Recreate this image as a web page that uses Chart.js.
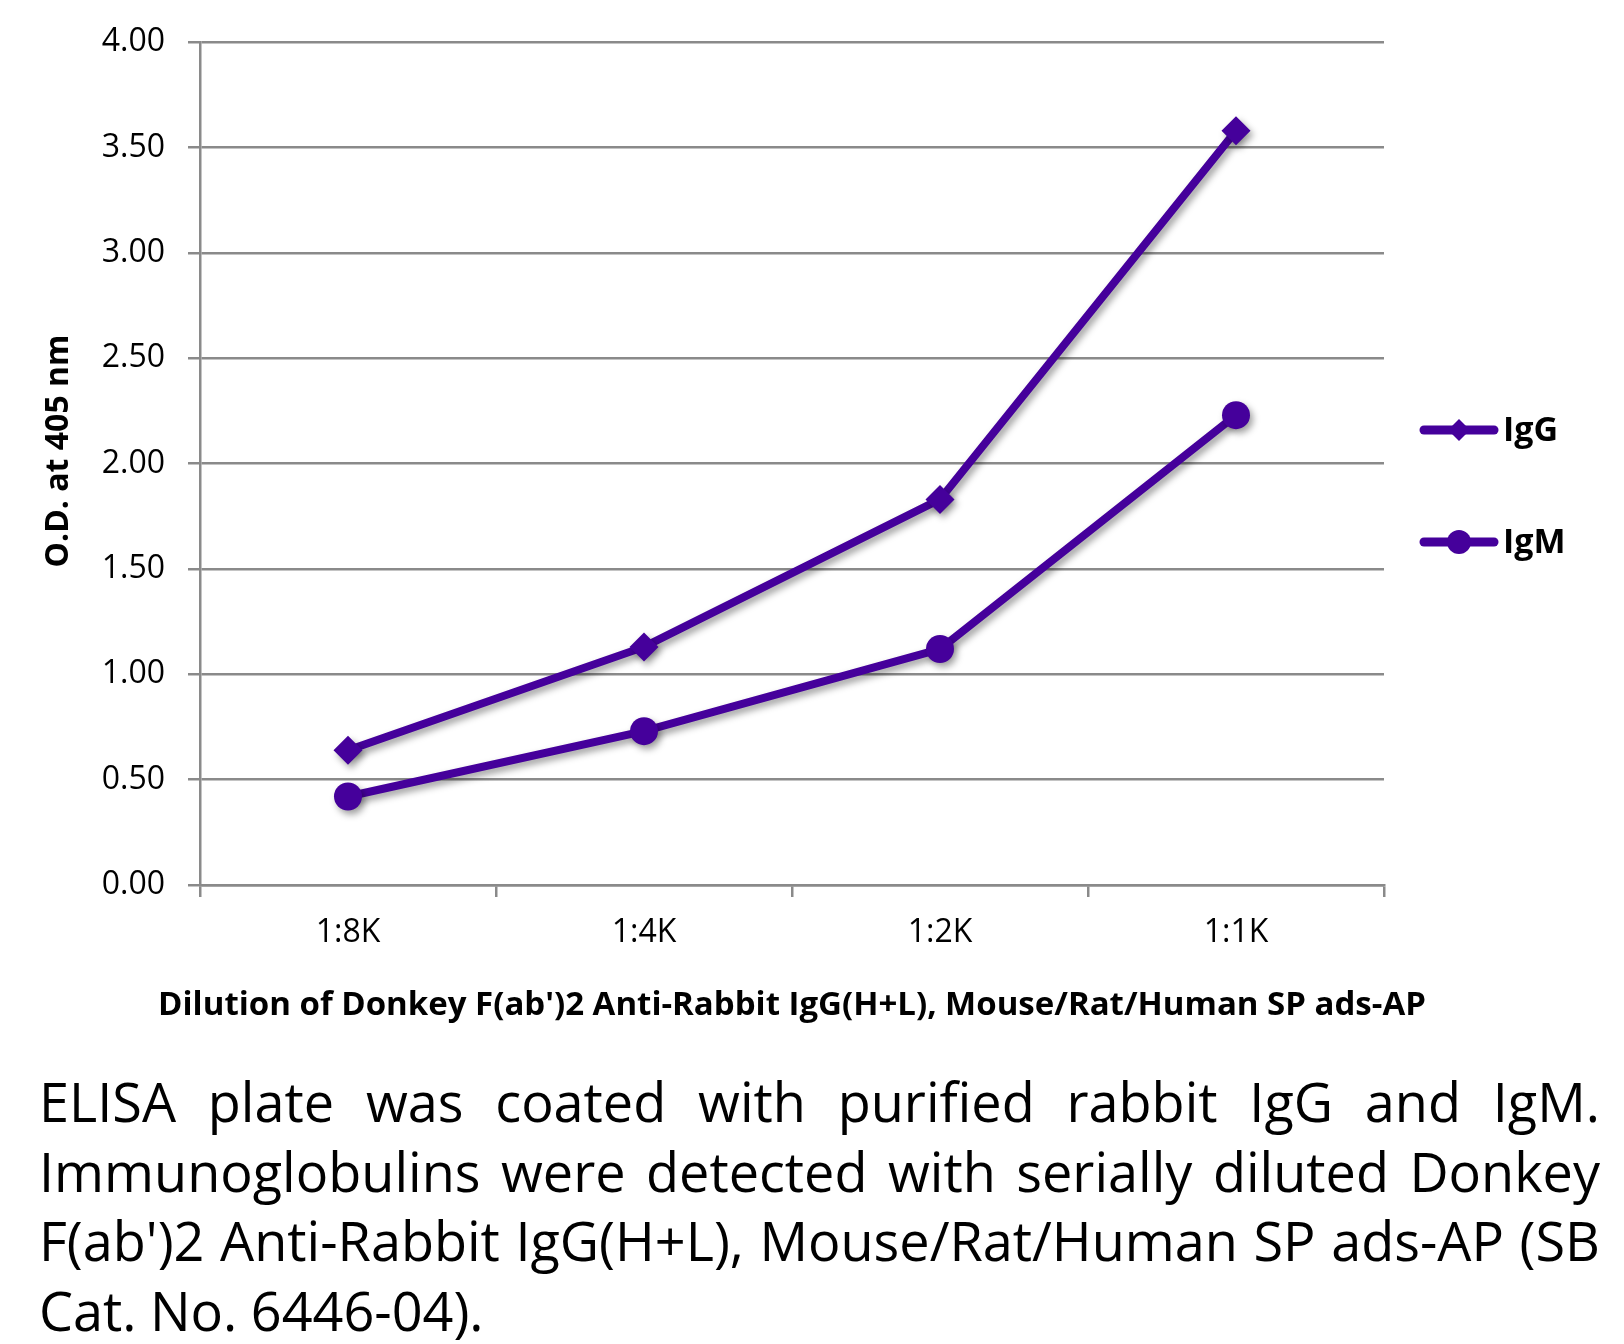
<!DOCTYPE html>
<html>
<head>
<meta charset="utf-8">
<script src="https://cdn.jsdelivr.net/npm/chart.js@4.4.1/dist/chart.umd.min.js"></script>
<style>
  html, body { margin: 0; padding: 0; background: #fff; }
  #wrap { position: relative; width: 1624px; height: 1344px; overflow: hidden; }
  #chart { position: absolute; left: 0; top: 0; }
  .cap { position: absolute; left: 39px; top: 1067px; width: 1561px;
         font-family: "Open Sans", sans-serif; color: #000; }
  .ln { display: flex; justify-content: space-between; gap: 10px; height: 69.5px;
        line-height: 69.5px; font-size: 54px; white-space: nowrap; }
  .ln.last { justify-content: flex-start; gap: 0.25em; }
</style>
</head>
<body>
<div id="wrap">
  <canvas id="chart" width="1624" height="1040"></canvas>
  <div class="cap" id="caption"></div>
</div>
<script>
const categories = ['1:8K', '1:4K', '1:2K', '1:1K'];
const iggValues = [0.64, 1.13, 1.83, 3.58];
const igmValues = [0.42, 0.73, 1.12, 2.23];
const seriesNames = ['IgG', 'IgM'];
const yMin = 0, yMax = 4, yStep = 0.5;

const xTitle = "Dilution of Donkey F(ab')2 Anti-Rabbit IgG(H+L), Mouse/Rat/Human SP ads-AP";
const yTitle = 'O.D. at 405 nm';
const captionLines = [
  'ELISA plate was coated with purified rabbit IgG and IgM.',
  'Immunoglobulins were detected with serially diluted Donkey',
  "F(ab')2 Anti-Rabbit IgG(H+L), Mouse/Rat/Human SP ads-AP (SB",
  'Cat. No. 6446-04).'
];

const purple = '#45009b';
const gridGray = '#8a8a8a';

// caption, one flex row per line so it justifies like the original
const cap = document.getElementById('caption');
captionLines.forEach((line, i) => {
  const row = document.createElement('div');
  row.className = 'ln' + (i === captionLines.length - 1 ? ' last' : '');
  line.split(' ').forEach(w => {
    const s = document.createElement('span');
    s.textContent = w;
    row.appendChild(s);
  });
  cap.appendChild(row);
});
// shrink font if a line does not fit
let capSize = 54;
const rows = cap.querySelectorAll('.ln');
const tooWide = () => Array.from(rows).some(r => r.scrollWidth > r.clientWidth + 1);
while (tooWide() && capSize > 30) {
  capSize -= 1;
  rows.forEach(r => { r.style.fontSize = capSize + 'px'; });
}

// soft drop shadow under the series
const shadowPlugin = {
  id: 'shadow',
  beforeDatasetsDraw(chart) {
    const c = chart.ctx;
    c.save();
    c.shadowColor = 'rgba(0,0,0,0.38)';
    c.shadowBlur = 7;
    c.shadowOffsetX = 3;
    c.shadowOffsetY = 4;
  },
  afterDatasetsDraw(chart) {
    chart.ctx.restore();
  }
};

// axis titles: the x title is wider than the plot, so draw them by hand
const axisTitles = {
  id: 'axisTitles',
  afterDraw(chart) {
    const c = chart.ctx;
    c.save();
    c.fillStyle = '#000';
    c.textAlign = 'center';
    c.textBaseline = 'alphabetic';
    c.font = 'bold 33px "Open Sans"';
    c.fillText(xTitle, 792, 1015);
    c.translate(68, 451);
    c.rotate(-Math.PI / 2);
    c.font = 'bold 32px "Open Sans"';
    c.fillText(yTitle, 0, 0);
    c.restore();
  }
};

// legend drawn as line + marker, like the office chart
const lineLegend = {
  id: 'lineLegend',
  afterDraw(chart) {
    const c = chart.ctx;
    const rowsY = [430, 542];
    chart.data.datasets.forEach((ds, i) => {
      const y = rowsY[i];
      c.save();
      c.strokeStyle = ds.borderColor;
      c.lineWidth = 9;
      c.lineCap = 'round';
      c.beginPath();
      c.moveTo(1424, y);
      c.lineTo(1494, y);
      c.stroke();
      c.fillStyle = ds.borderColor;
      Chart.helpers.drawPoint(c, {
        pointStyle: ds.pointStyle,
        radius: i === 0 ? 11 : 12,
        borderWidth: 0
      }, 1459, y);
      c.fillStyle = '#000';
      c.font = 'bold 34px "Open Sans"';
      c.textAlign = 'left';
      c.textBaseline = 'middle';
      c.fillText(ds.label, 1503, y + 1);
      c.restore();
    });
  }
};

new Chart(document.getElementById('chart'), {
  type: 'line',
  data: {
    labels: categories,
    datasets: [
      {
        label: seriesNames[0],
        data: iggValues,
        borderColor: purple,
        backgroundColor: purple,
        borderWidth: 8,
        pointStyle: 'rectRot',
        pointRadius: 14.5,
        pointBorderWidth: 0,
        pointBackgroundColor: purple,
        tension: 0
      },
      {
        label: seriesNames[1],
        data: igmValues,
        borderColor: purple,
        backgroundColor: purple,
        borderWidth: 8,
        pointStyle: 'circle',
        pointRadius: 14,
        pointBorderWidth: 0,
        pointBackgroundColor: purple,
        tension: 0
      }
    ]
  },
  options: {
    responsive: false,
    devicePixelRatio: 1,
    animation: false,
    layout: { padding: { left: 0, top: 40, right: 240, bottom: 0 } },
    plugins: {
      legend: { display: false },
      tooltip: { enabled: false }
    },
    scales: {
      x: {
        type: 'category',
        offset: true,
        grid: {
          offset: true,
          drawOnChartArea: false,
          drawTicks: true,
          tickLength: 12,
          color: gridGray,
          lineWidth: 2.5
        },
        border: { color: gridGray, width: 2.5 },
        ticks: {
          color: '#000',
          padding: 17,
          font: { family: 'Open Sans', size: 32 }
        },
        title: { display: false },
        afterFit(scale) { scale.height = 155; }
      },
      y: {
        min: yMin,
        max: yMax,
        ticks: {
          stepSize: yStep,
          color: '#000',
          padding: 23,
          font: { family: 'Open Sans', size: 32 },
          callback: (v) => Number(v).toFixed(2)
        },
        grid: {
          color: gridGray,
          lineWidth: 2.5,
          tickLength: 12
        },
        border: { color: gridGray, width: 2.5 },
        title: { display: false },
        afterFit(scale) { scale.width = 200; }
      }
    }
  },
  plugins: [shadowPlugin, axisTitles, lineLegend]
});
</script>
</body>
</html>
